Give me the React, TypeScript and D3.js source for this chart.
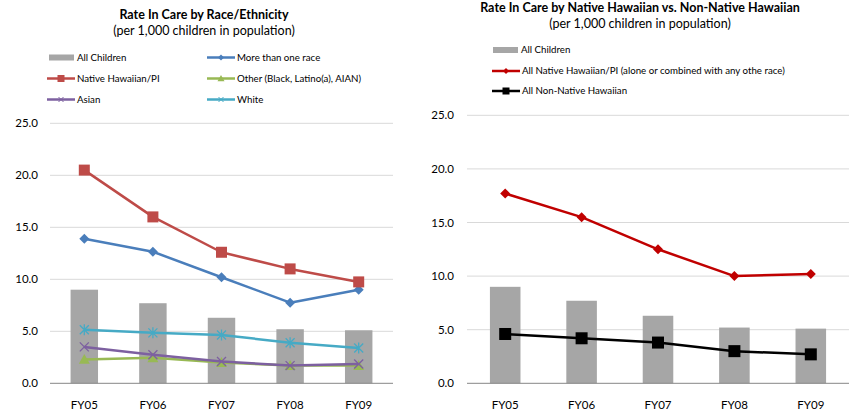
import React from "react";
import * as d3 from "d3";

const years = ["FY05", "FY06", "FY07", "FY08", "FY09"];
const yTicks = [0, 5, 10, 15, 20, 25];

const allChildren = [9.0, 7.7, 6.3, 5.2, 5.1];
const moreThanOne = [13.9, 12.65, 10.2, 7.75, 9.0];
const nativeHawaiianPI = [20.5, 16.0, 12.6, 11.0, 9.75];
const otherRace = [2.3, 2.45, 2.0, 1.7, 1.7];
const asian = [3.5, 2.75, 2.1, 1.7, 1.85];
const white = [5.15, 4.85, 4.65, 3.9, 3.4];

const allNH = [17.7, 15.5, 12.5, 10.0, 10.2];
const nonNH = [4.6, 4.2, 3.8, 3.0, 2.7];

type Series = { name: string; values: number[]; color: string; marker: string; width: number };

const leftSeries: Series[] = [
  { name: "More than one race", values: moreThanOne, color: "#4a7ebb", marker: "diamond", width: 2.5 },
  { name: "Native Hawaiian/PI", values: nativeHawaiianPI, color: "#be4b48", marker: "square", width: 2.5 },
  { name: "Other (Black, Latino(a), AIAN)", values: otherRace, color: "#98b954", marker: "triangle", width: 2.5 },
  { name: "Asian", values: asian, color: "#7d60a0", marker: "x", width: 2.5 },
  { name: "White", values: white, color: "#46aac5", marker: "star", width: 2.5 },
];

const rightSeries: Series[] = [
  { name: "All Native Hawaiian/PI (alone or combined with any othe race)", values: allNH, color: "#c00000", marker: "diamond", width: 2.5 },
  { name: "All Non-Native Hawaiian", values: nonNH, color: "#000000", marker: "bigsquare", width: 2.5 },
];

const FONT = "Lato, 'Liberation Sans', sans-serif";

function Marker({ type, x, y, color }: { type: string; x: number; y: number; color: string }) {
  if (type === "diamond") {
    const s = 5;
    return <path d={`M${x},${y - s}L${x + s},${y}L${x},${y + s}L${x - s},${y}Z`} fill={color} />;
  }
  if (type === "square") {
    const s = 5.5;
    return <rect x={x - s} y={y - s} width={2 * s} height={2 * s} fill={color} />;
  }
  if (type === "bigsquare") {
    const s = 6;
    return <rect x={x - s} y={y - s} width={2 * s} height={2 * s} fill={color} />;
  }
  if (type === "triangle") {
    const s = 5.5;
    return <path d={`M${x},${y - s}L${x + s},${y + s * 0.8}L${x - s},${y + s * 0.8}Z`} fill={color} />;
  }
  if (type === "x") {
    const s = 4.5;
    return (
      <path d={`M${x - s},${y - s}L${x + s},${y + s}M${x - s},${y + s}L${x + s},${y - s}`} stroke={color} strokeWidth={1.3} fill="none" />
    );
  }
  if (type === "star") {
    const s = 4.5;
    return (
      <path
        d={`M${x - s},${y - s}L${x + s},${y + s}M${x - s},${y + s}L${x + s},${y - s}M${x},${y - s - 1}L${x},${y + s + 1}`}
        stroke={color}
        strokeWidth={1.3}
        fill="none"
      />
    );
  }
  return null;
}

function LegendMarker({ type, x, y, color }: { type: string; x: number; y: number; color: string }) {
  if (type === "diamond") {
    const s = 3;
    return <path d={`M${x},${y - s}L${x + s},${y}L${x},${y + s}L${x - s},${y}Z`} fill={color} />;
  }
  if (type === "square" || type === "bigsquare") {
    const s = 3.5;
    return <rect x={x - s} y={y - s} width={2 * s} height={2 * s} fill={color} />;
  }
  if (type === "triangle") {
    const s = 3.5;
    return <path d={`M${x},${y - s}L${x + s},${y + s * 0.8}L${x - s},${y + s * 0.8}Z`} fill={color} />;
  }
  if (type === "x" || type === "star") {
    const s = 2.5;
    return (
      <path d={`M${x - s},${y - s}L${x + s},${y + s}M${x - s},${y + s}L${x + s},${y - s}`} stroke={color} strokeWidth={1} fill="none" />
    );
  }
  return null;
}

type PanelProps = {
  title: string;
  titleX: number;
  titleY: number;
  subY: number;
  x0: number;
  x1: number;
  yTop: number;
  yBottom: number;
  labelRight: number;
  bars: number[];
  series: Series[];
  legend: { name: string; type: string; color: string; marker: string; x: number; y: number }[];
};

function Panel(p: PanelProps) {
  const band = d3.scaleBand<string>().domain(years).range([p.x0, p.x1]);
  const y = d3.scaleLinear().domain([0, 25]).range([p.yBottom, p.yTop]);
  const cx = (d: string) => (band(d) as number) + band.bandwidth() / 2;
  const barW = band.bandwidth() * 0.4;
  const line = d3
    .line<number>()
    .x((_, i) => cx(years[i]))
    .y((v) => y(v));

  return (
    <g>
      <text x={p.titleX} y={p.titleY} textAnchor="middle" fontFamily={FONT} fontWeight="bold" fontSize={12.5} fill="#000">
        {p.title}
      </text>
      <text x={p.titleX} y={p.subY} textAnchor="middle" fontFamily={FONT} fontSize={12.5} fill="#000">
        (per 1,000 children in population)
      </text>
      {p.legend.map((l, i) =>
        l.type === "bar" ? (
          <g key={i}>
            <rect x={l.x} y={l.y - 3} width={25} height={6} fill="#a6a6a6" />
            <text x={l.x + 28} y={l.y + 3.4} fontFamily={FONT} fontSize={9.7} fill="#000">
              {l.name}
            </text>
          </g>
        ) : (
          <g key={i}>
            <line x1={l.x} x2={l.x + 28} y1={l.y} y2={l.y} stroke={l.color} strokeWidth={2.5} />
            <LegendMarker type={l.marker} x={l.x + 14} y={l.y} color={l.color} />
            <text x={l.x + 30} y={l.y + 3.4} fontFamily={FONT} fontSize={9.7} fill="#000">
              {l.name}
            </text>
          </g>
        )
      )}
      {yTicks.map((t) => (
        <g key={t}>
          {t > 0 && <line x1={p.x0} x2={p.x1} y1={y(t)} y2={y(t)} stroke="#d9d9d9" strokeWidth={1} />}
          <text x={p.labelRight} y={y(t) + 4} textAnchor="end" fontFamily={FONT} fontSize={11.5} fill="#000">
            {t.toFixed(1)}
          </text>
        </g>
      ))}
      {p.bars.map((v, i) => (
        <rect key={i} x={cx(years[i]) - barW / 2} y={y(v)} width={barW} height={y(0) - y(v)} fill="#a6a6a6" />
      ))}
      <line x1={p.x0} x2={p.x1} y1={y(0)} y2={y(0)} stroke="#868686" strokeWidth={1} />
      {years.map((yr) => (
        <text key={yr} x={cx(yr)} y={p.yBottom + 26} textAnchor="middle" fontFamily={FONT} fontSize={11.5} fill="#000">
          {yr}
        </text>
      ))}
      {p.series.map((s) => (
        <g key={s.name}>
          <path d={line(s.values) || ""} fill="none" stroke={s.color} strokeWidth={s.width} strokeLinejoin="round" />
          {s.values.map((v, i) => (
            <Marker key={i} type={s.marker} x={cx(years[i])} y={y(v)} color={s.color} />
          ))}
        </g>
      ))}
    </g>
  );
}

export default function App() {
  const leftLegend = [
    { name: "All Children", type: "bar", color: "#a6a6a6", marker: "", x: 49, y: 57.5 },
    { name: leftSeries[0].name, type: "line", color: leftSeries[0].color, marker: leftSeries[0].marker, x: 207, y: 57.5 },
    { name: leftSeries[1].name, type: "line", color: leftSeries[1].color, marker: leftSeries[1].marker, x: 47, y: 78.5 },
    { name: leftSeries[2].name, type: "line", color: leftSeries[2].color, marker: leftSeries[2].marker, x: 207, y: 78.5 },
    { name: leftSeries[3].name, type: "line", color: leftSeries[3].color, marker: leftSeries[3].marker, x: 47, y: 99.5 },
    { name: leftSeries[4].name, type: "line", color: leftSeries[4].color, marker: leftSeries[4].marker, x: 207, y: 99.5 },
  ];
  const rightLegend = [
    { name: "All Children", type: "bar", color: "#a6a6a6", marker: "", x: 493, y: 50 },
    { name: rightSeries[0].name, type: "line", color: rightSeries[0].color, marker: rightSeries[0].marker, x: 492, y: 71 },
    { name: rightSeries[1].name, type: "line", color: rightSeries[1].color, marker: rightSeries[1].marker, x: 492, y: 91 },
  ];
  return (
    <svg width={849} height={418} style={{ position: "absolute", left: 0, top: 0, background: "#fff" }}>
      <rect x={0} y={0} width={849} height={418} fill="#fff" />
      <Panel
        title="Rate In Care by Race/Ethnicity"
        titleX={204}
        titleY={19}
        subY={35}
        x0={50}
        x1={393}
        yTop={123.3}
        yBottom={383.3}
        labelRight={38}
        bars={allChildren}
        series={leftSeries}
        legend={leftLegend}
      />
      <Panel
        title="Rate In Care by Native Hawaiian vs. Non-Native Hawaiian"
        titleX={640}
        titleY={12}
        subY={28}
        x0={467}
        x1={849}
        yTop={115.3}
        yBottom={383.3}
        labelRight={454}
        bars={allChildren}
        series={rightSeries}
        legend={rightLegend}
      />
    </svg>
  );
}
